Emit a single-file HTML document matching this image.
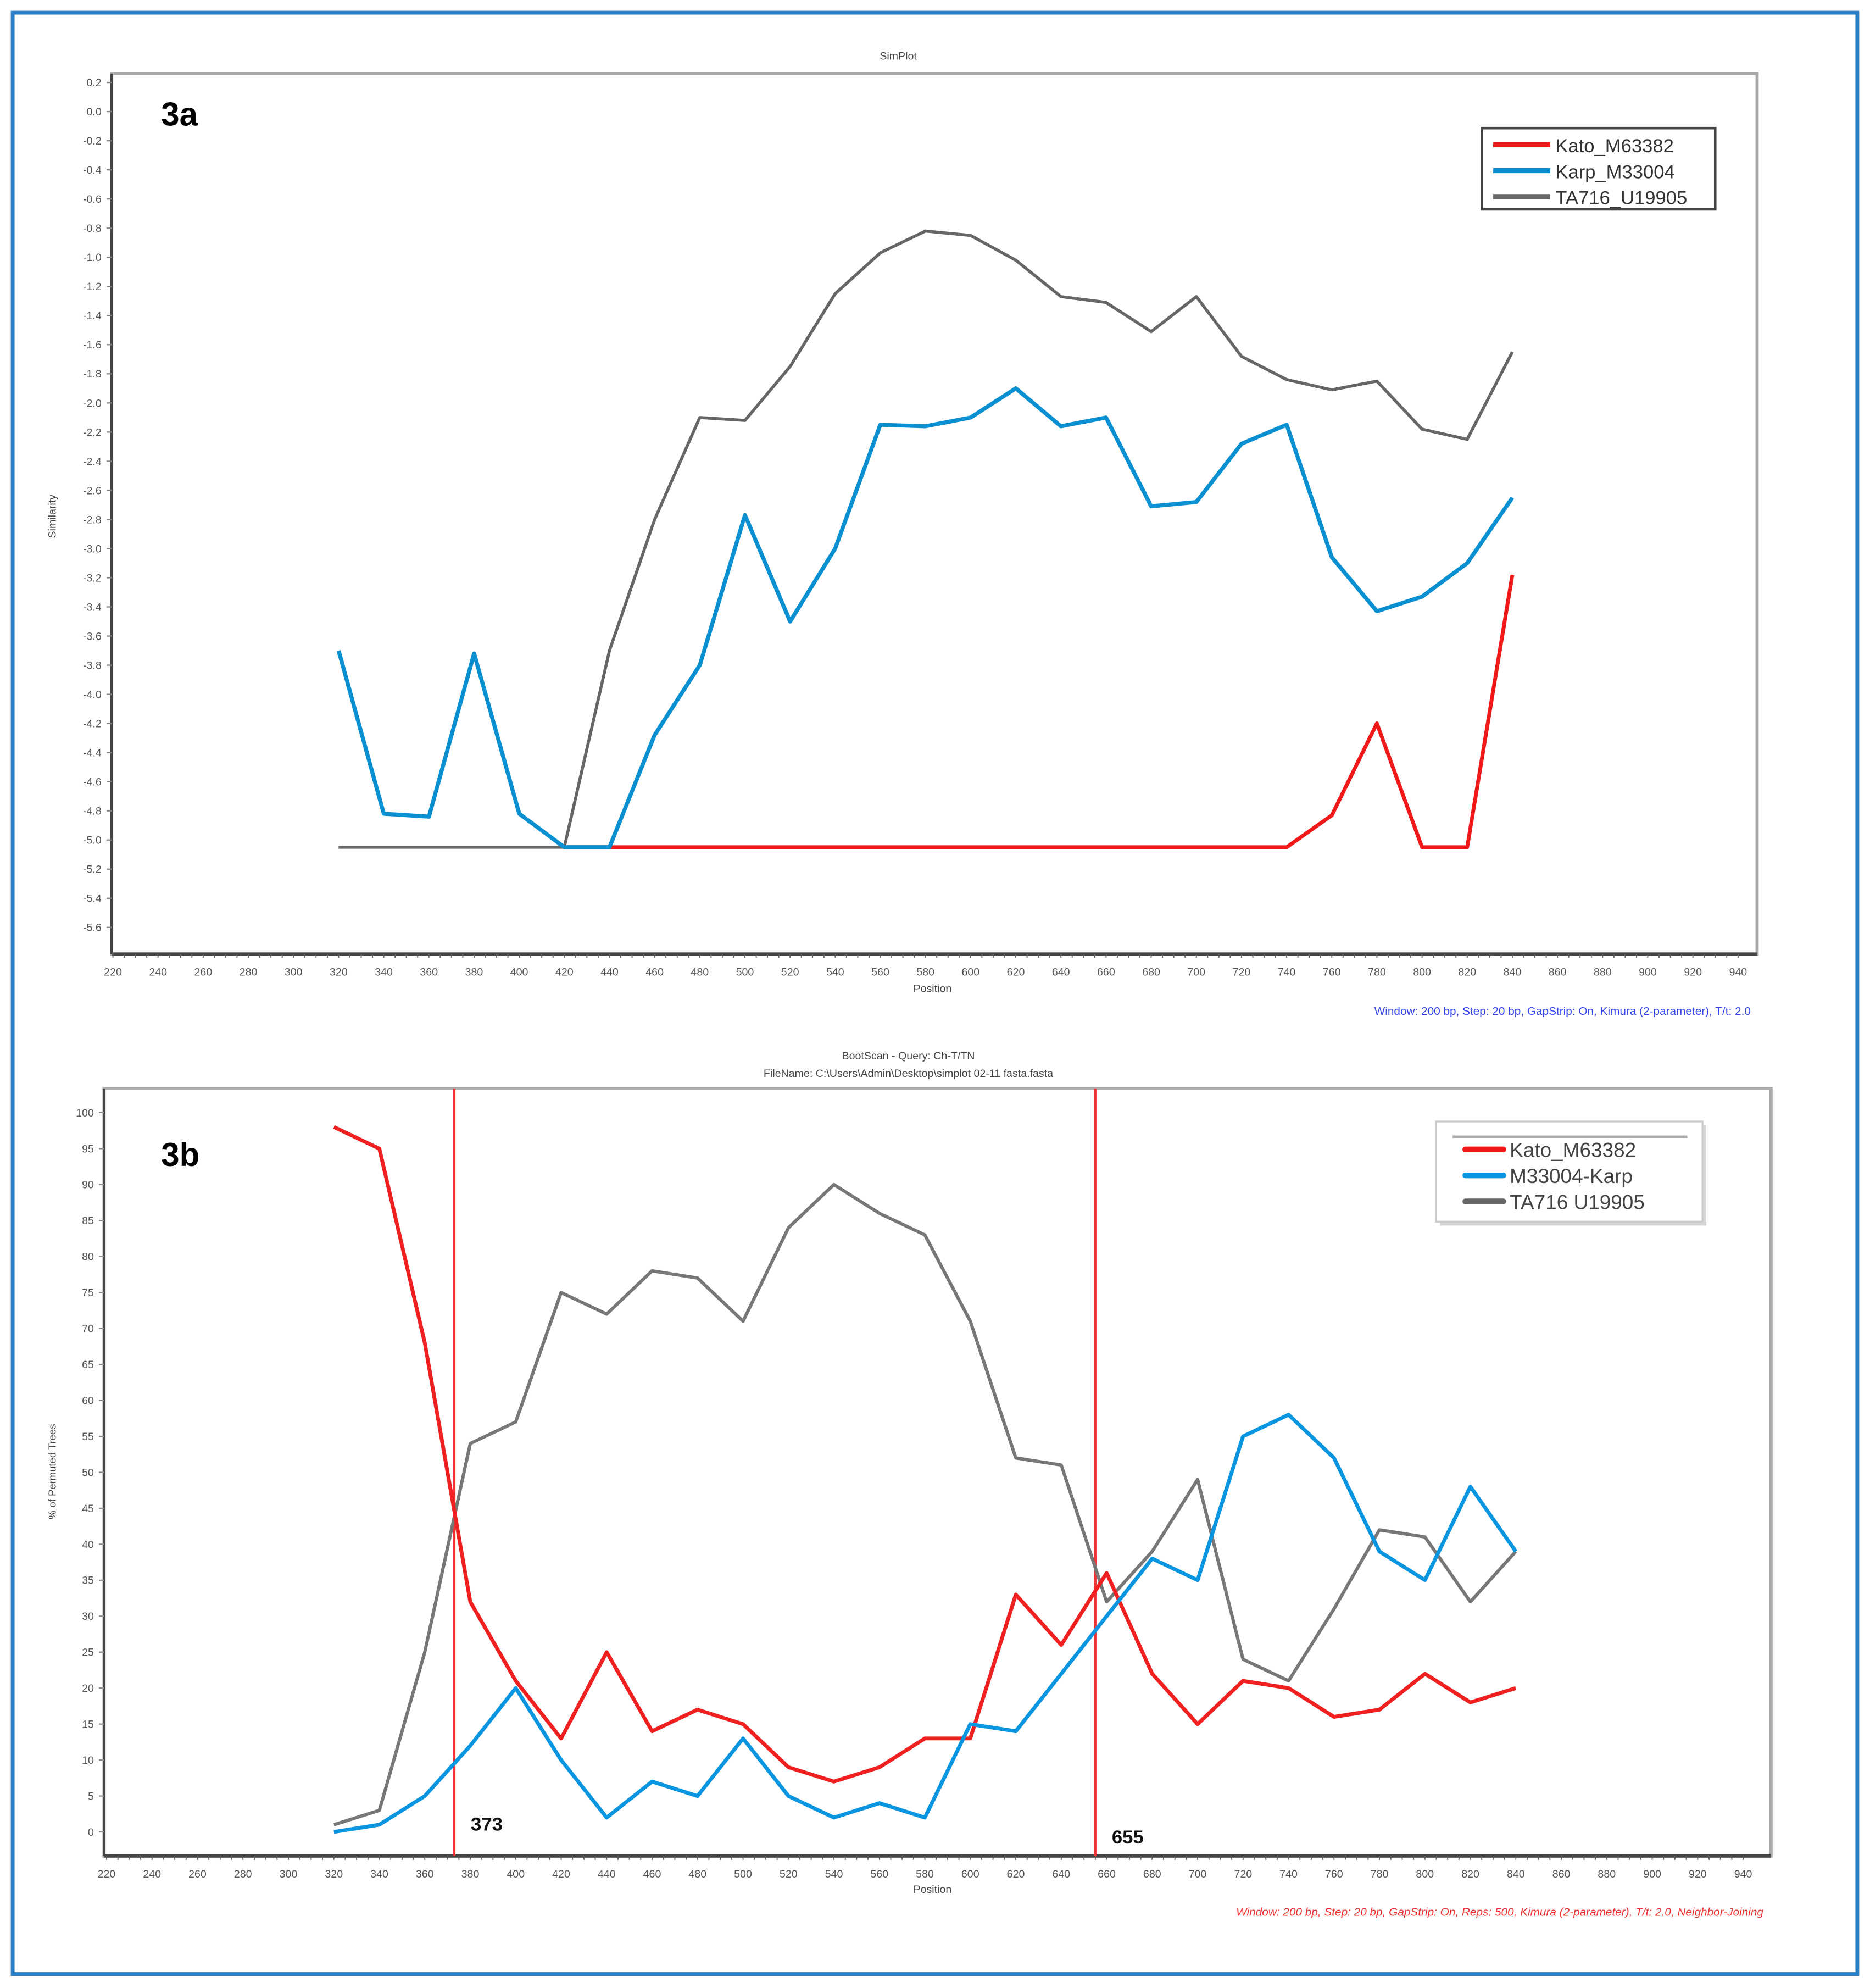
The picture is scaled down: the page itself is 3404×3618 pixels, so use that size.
<!DOCTYPE html>
<html><head><meta charset="utf-8">
<style>
html,body{margin:0;padding:0;background:#fff;}
svg{display:block;}
text{font-family:"Liberation Sans",sans-serif;}
</style></head>
<body>
<svg id="fig" width="3404" height="3618" viewBox="0 0 1474 1567" preserveAspectRatio="none" xmlns="http://www.w3.org/2000/svg">
<rect x="10" y="10" width="1454" height="1546" fill="#fff" stroke="#2a7fc4" stroke-width="3"/>
<g id="ga"></g>
<g id="gb"></g>
</svg>
<script>
// ---- shared data ----
const positions = [320,340,360,380,400,420,440,460,480,500,520,540,560,580,600,620,640,660,680,700,720,740,760,780,800,820,840];
const xTickLabels = [220,240,260,280,300,320,340,360,380,400,420,440,460,480,500,520,540,560,580,600,620,640,660,680,700,720,740,760,780,800,820,840,860,880,900,920,940];
// ---- 3a SimPlot data ----
const aYTicks = [0.2,0.0,-0.2,-0.4,-0.6,-0.8,-1.0,-1.2,-1.4,-1.6,-1.8,-2.0,-2.2,-2.4,-2.6,-2.8,-3.0,-3.2,-3.4,-3.6,-3.8,-4.0,-4.2,-4.4,-4.6,-4.8,-5.0,-5.2,-5.4,-5.6];
const aKato = [null,null,null,null,null,null,-5.05,-5.05,-5.05,-5.05,-5.05,-5.05,-5.05,-5.05,-5.05,-5.05,-5.05,-5.05,-5.05,-5.05,-5.05,-5.05,-4.83,-4.2,-5.05,-5.05,-3.18];
const aKarp = [-3.7,-4.82,-4.84,-3.72,-4.82,-5.05,-5.05,-4.28,-3.8,-2.77,-3.5,-3.0,-2.15,-2.16,-2.1,-1.9,-2.16,-2.1,-2.71,-2.68,-2.28,-2.15,-3.06,-3.43,-3.33,-3.1,-2.65];
const aTA = [-5.05,-5.05,-5.05,-5.05,-5.05,-5.05,-3.7,-2.8,-2.1,-2.12,-1.75,-1.25,-0.97,-0.82,-0.85,-1.02,-1.27,-1.31,-1.51,-1.27,-1.68,-1.84,-1.91,-1.85,-2.18,-2.25,-1.65];
// ---- 3b BootScan data ----
const bYTicks = [100,95,90,85,80,75,70,65,60,55,50,45,40,35,30,25,20,15,10,5,0];
const bKato = [98,95,68,32,21,13,25,14,17,15,9,7,9,13,13,33,26,36,22,15,21,20,16,17,22,18,20];
const bKarp = [0,1,5,12,20,10,2,7,5,13,5,2,4,2,15,14,22,30,38,35,55,58,52,39,35,48,39];
const bTA = [1,3,25,54,57,75,72,78,77,71,84,90,86,83,71,52,51,32,39,49,24,21,31,42,41,32,39];
const bBreaks = [373,655];

const NS="http://www.w3.org/2000/svg";
function el(parent,tag,attrs,txt){const e=document.createElementNS(NS,tag);for(const k in attrs)e.setAttribute(k,attrs[k]);if(txt!==undefined)e.textContent=txt;parent.appendChild(e);return e;}

function drawChart(g,cfg){
  const xs=v=>cfg.x0+(v-220)/(940-220)*(cfg.x1-cfg.x0);
  const ys=v=>cfg.y0+(cfg.yTop-v)/(cfg.yTop-cfg.yBot)*(cfg.y1-cfg.y0);
  const fr=el(g,'rect',{x:cfg.fx0,y:cfg.fy0,width:cfg.fx1-cfg.fx0,height:cfg.fy1-cfg.fy0,fill:'#fff',stroke:'#aaa','stroke-width':2.5});
  
  const ax=el(g,'line',{x1:cfg.fx0,y1:cfg.fy0,x2:cfg.fx0,y2:cfg.fy1,stroke:'#444','stroke-width':2});
  
  const bx=el(g,'line',{x1:cfg.fx0,y1:cfg.fy1,x2:cfg.fx1,y2:cfg.fy1,stroke:'#444','stroke-width':2.5});
  
  cfg.yTicks.forEach(v=>{
    const t=el(g,'text',{x:cfg.fx0-8,y:ys(v)+3,'font-size':8.5,'text-anchor':'end',fill:'#555'},cfg.fmt(v));
    
    el(g,'line',{x1:cfg.fx0-4,y1:ys(v),x2:cfg.fx0,y2:ys(v),stroke:'#888','stroke-width':1});
  });
  xTickLabels.forEach(v=>{
    const t=el(g,'text',{x:xs(v),y:cfg.fy1+17,'font-size':8.5,'text-anchor':'middle',fill:'#555'},String(v));
    
  });
  for(let v=220;v<=940;v+=5){el(g,'line',{x1:xs(v),y1:cfg.fy1,x2:xs(v),y2:cfg.fy1+3,stroke:'#666','stroke-width':0.8});}
  (cfg.breaks||[]).forEach(b=>{
    const l=el(g,'line',{x1:xs(b),y1:cfg.fy0,x2:xs(b),y2:cfg.fy1,stroke:'#e33','stroke-width':1.8});
    
  });
  cfg.series.forEach(s=>{
    let d='';let pen=false;
    s.vals.forEach((v,i)=>{if(v===null){pen=false;return;}d+=(pen?'L':'M')+xs(positions[i]).toFixed(1)+' '+ys(v).toFixed(1)+' ';pen=true;});
    const p=el(g,'path',{d:d,fill:'none',stroke:s.color,'stroke-width':s.w,'stroke-linejoin':'round'});
    
  });
  return {xs,ys};
}

// ---- 3a ----
const ga=document.getElementById('ga');
drawChart(ga,{x0:89,x1:1370,fx0:88,fx1:1385,fy0:58,fy1:752,y0:65,y1:731,yTop:0.2,yBot:-5.6,yTicks:aYTicks,fmt:v=>v.toFixed(1),
  series:[{name:'ta716-line',vals:aTA,color:'#666',w:2.4},{name:'kato-line',vals:aKato,color:'#f01818',w:3},{name:'karp-line',vals:aKarp,color:'#0a8fd0',w:3.2}]});
let t;
t=el(ga,'text',{x:708,y:47,'font-size':8.5,'text-anchor':'middle',fill:'#444'},'SimPlot');
t=el(ga,'text',{x:127,y:99,'font-size':26,'font-weight':'bold',fill:'#000'},'3a');
t=el(ga,'text',{x:735,y:782,'font-size':8.5,'text-anchor':'middle',fill:'#444'},'Position');
t=el(ga,'text',{x:44,y:407,'font-size':8.5,'text-anchor':'middle',fill:'#444',transform:'rotate(-90 44 407)'},'Similarity');
t=el(ga,'text',{x:1380,y:800,'font-size':9,'text-anchor':'end',fill:'#3344ee'},'Window: 200 bp, Step: 20 bp, GapStrip: On, Kimura (2-parameter), T/t: 2.0');
let lg=el(ga,'g',{});
el(lg,'rect',{x:1168,y:101,width:184,height:64,fill:'#fff',stroke:'#444','stroke-width':2});
[['Kato_M63382','#f01818'],['Karp_M33004','#0a8fd0'],['TA716_U19905','#666']].forEach((e,i)=>{
  const y=114+i*20.5;
  const l=el(lg,'line',{x1:1177,y1:y,x2:1222,y2:y,stroke:e[1],'stroke-width':4});
  const tx=el(lg,'text',{x:1226,y:y+6,'font-size':15,fill:'#333'},e[0]);
});

// ---- 3b ----
const gb=document.getElementById('gb');
const sb=drawChart(gb,{x0:84,x1:1374,fx0:82,fx1:1396,fy0:858,fy1:1463,y0:877,y1:1444,yTop:100,yBot:0,yTicks:bYTicks,fmt:v=>String(v),breaks:bBreaks,
  series:[{name:'ta716-line',vals:bTA,color:'#777',w:2.6},{name:'kato-line',vals:bKato,color:'#f02020',w:3},{name:'karp-line',vals:bKarp,color:'#0a95e0',w:3}]});
t=el(gb,'text',{x:716,y:835,'font-size':8.5,'text-anchor':'middle',fill:'#444'},'BootScan - Query: Ch-T/TN');
t=el(gb,'text',{x:716,y:849,'font-size':8.5,'text-anchor':'middle',fill:'#444'},'FileName: C:\\Users\\Admin\\Desktop\\simplot 02-11 fasta.fasta');
t=el(gb,'text',{x:127,y:919,'font-size':26,'font-weight':'bold',fill:'#000'},'3b');
bBreaks.forEach((b,i)=>{
  const tx=el(gb,'text',{x:sb.xs(b)+13,y:i===0?1443:1453,'font-size':15,'font-weight':'bold',fill:'#111','font-family':'Liberation Serif, serif'},String(b));
  
});
t=el(gb,'text',{x:735,y:1492,'font-size':8.5,'text-anchor':'middle',fill:'#444'},'Position');
t=el(gb,'text',{x:44,y:1160,'font-size':8,'text-anchor':'middle',fill:'#444',transform:'rotate(-90 44 1160)'},'% of Permuted Trees');
t=el(gb,'text',{x:1390,y:1510,'font-size':9,'text-anchor':'end',fill:'#f03030','font-style':'italic'},'Window: 200 bp, Step: 20 bp, GapStrip: On, Reps: 500, Kimura (2-parameter), T/t: 2.0, Neighbor-Joining');
lg=el(gb,'g',{});
el(lg,'rect',{x:1135,y:887,width:210,height:79,fill:'#bbb',opacity:0.6});
el(lg,'rect',{x:1132,y:884,width:210,height:79,fill:'#fff',stroke:'#ccc','stroke-width':1.5});
el(lg,'line',{x1:1145,y1:896,x2:1330,y2:896,stroke:'#aaa','stroke-width':2});
[['Kato_M63382','#f01818'],['M33004-Karp','#0a95e0'],['TA716  U19905','#666']].forEach((e,i)=>{
  const y=906+i*20.5;
  const l=el(lg,'line',{x1:1155,y1:y,x2:1185,y2:y,stroke:e[1],'stroke-width':4.5,'stroke-linecap':'round'});
  const tx=el(lg,'text',{x:1190,y:y+6,'font-size':16,fill:'#444'},e[0]);
});
</script>
</body></html>
